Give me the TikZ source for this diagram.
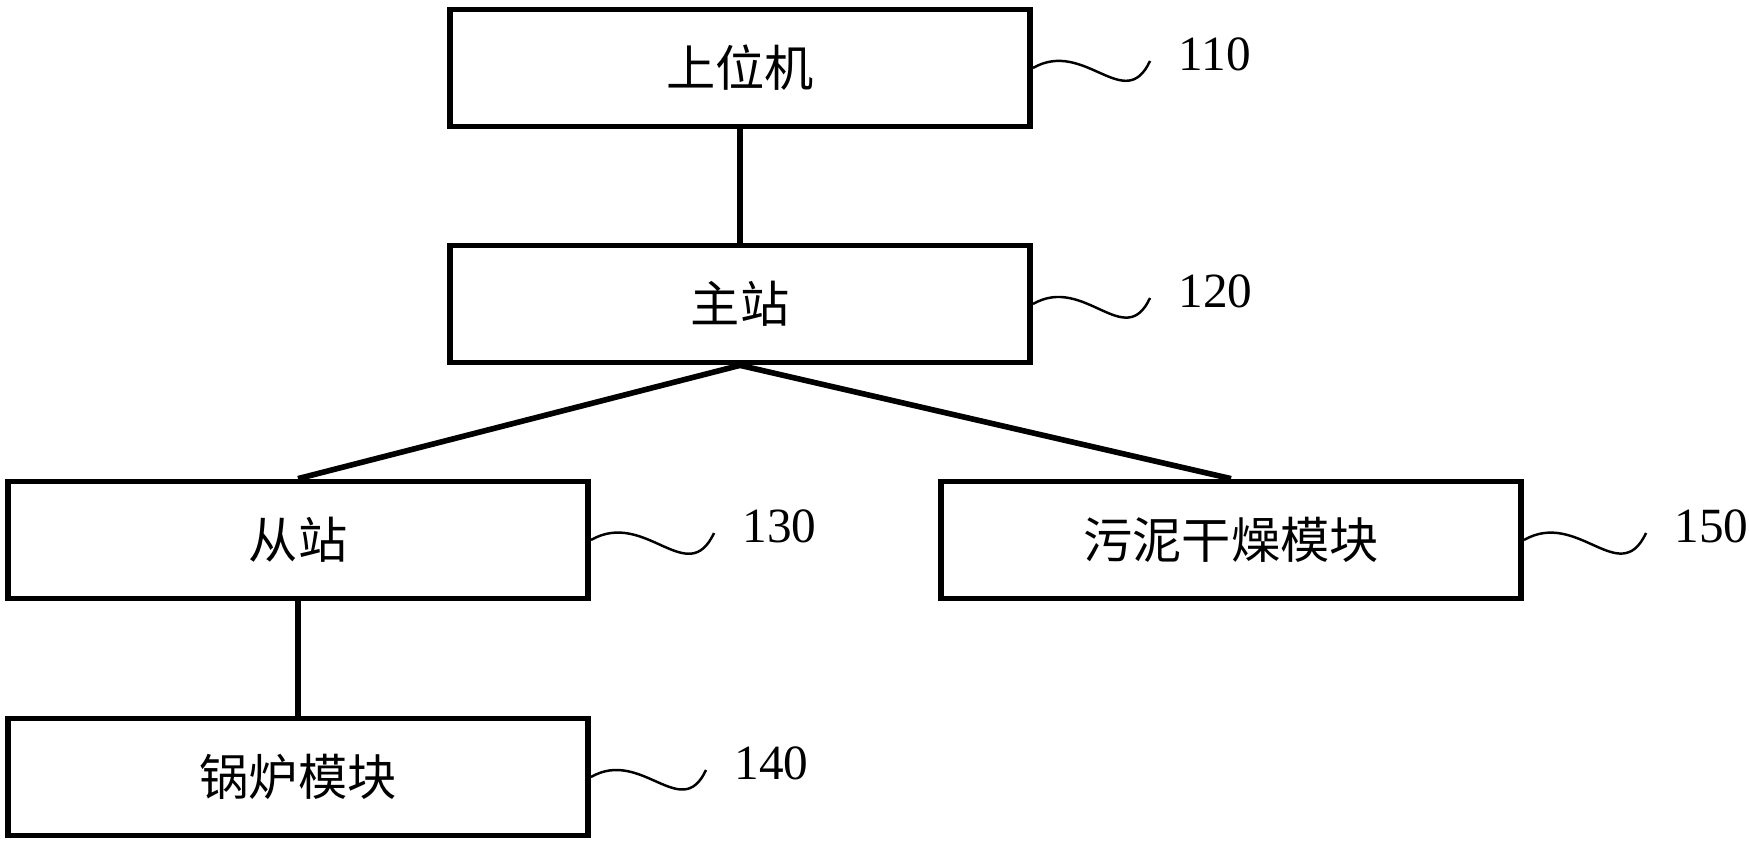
\documentclass[tikz,border=0pt]{standalone}
\usepackage{fontspec}
\setmainfont{Liberation Serif}
\newfontfamily\cjk{Noto Sans CJK SC}
\usetikzlibrary{positioning}
\tikzset{
	block/.style={draw, line width=1.6pt, minimum width=5.8cm, minimum height=1.17cm, font=\cjk\fontsize{14pt}{16pt}\selectfont},
	tag/.style={anchor=west, inner sep=0pt, font=\fontsize{14pt}{16pt}\selectfont},
	link/.style={line width=1.6pt},
	wave/.style={line width=0.7pt, out=30, in=-115, looseness=1.3}
}

\begin{document}
\begin{tikzpicture}[x=0.01cm, y=-0.01cm]
		\useasboundingbox (0,0) rectangle (1749,846);

		\node[block] (host) at (740,68) {上位机};
		\node[block] (master) at (740,304) {主站};
		\node[block] (slave) at (298,540) {从站};
		\node[block] (boiler) at (298,777) {锅炉模块};
		\node[block] (sludge) at (1231,540) {污泥干燥模块};

		\node[tag] (l110) at (1178,54) {110};
		\node[tag] (l120) at (1178,291) {120};
		\node[tag] (l130) at (742,526) {130};
		\node[tag] (l140) at (734,763) {140};
		\node[tag] (l150) at (1674,526) {150};

		\draw[link] (host.south)   -- (master.north);
		\draw[link] (master.south) -- (slave.north);
		\draw[link] (master.south) -- (sludge.north);
		\draw[link] (slave.south)  -- (boiler.north);

		\draw[wave] (host.east)   to ([shift={(-28,7)}]l110.west);
		\draw[wave] (master.east) to ([shift={(-28,7)}]l120.west);
		\draw[wave] (slave.east)  to ([shift={(-28,7)}]l130.west);
		\draw[wave] (boiler.east) to ([shift={(-28,7)}]l140.west);
		\draw[wave] (sludge.east) to ([shift={(-28,7)}]l150.west);
	\end{tikzpicture}
\end{document}
